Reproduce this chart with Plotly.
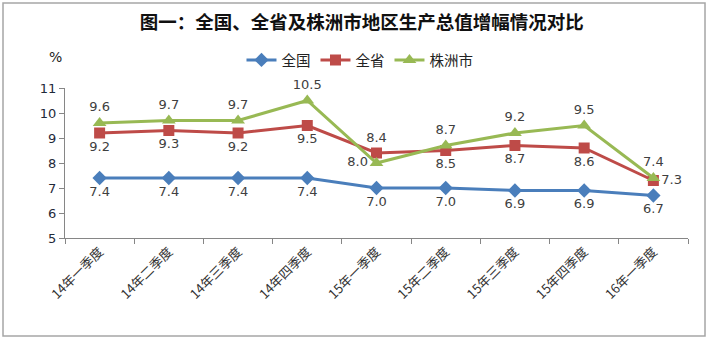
import plotly.graph_objects as go

quarters = ["14年一季度", "14年二季度", "14年三季度", "14年四季度", "15年一季度",
            "15年二季度", "15年三季度", "15年四季度", "16年一季度"]
national = [7.4, 7.4, 7.4, 7.4, 7.0, 7.0, 6.9, 6.9, 6.7]
province = [9.2, 9.3, 9.2, 9.5, 8.4, 8.5, 8.7, 8.6, 7.3]
zhuzhou = [9.6, 9.7, 9.7, 10.5, 8.0, 8.7, 9.2, 9.5, 7.4]

prov_pos = ["bottom center"] * 4 + ["top center"] + ["bottom center"] * 3 + ["middle right"]
zz_pos = ["top center"] * 4 + ["middle left"] + ["top center"] * 4

label_font = dict(family="DejaVu Sans", size=13, color="#404040")

fig = go.Figure()
fig.add_trace(go.Scatter(
    x=quarters, y=national, name="全国", mode="lines+markers+text",
    line=dict(color="#4A7EBB", width=3),
    marker=dict(symbol="diamond", size=11, color="#4A7EBB"),
    text=[f"{v:.1f}" for v in national], textposition="bottom center",
    textfont=label_font, cliponaxis=False,
))
fig.add_trace(go.Scatter(
    x=quarters, y=province, name="全省", mode="lines+markers+text",
    line=dict(color="#BE4B48", width=3),
    marker=dict(symbol="square", size=11, color="#BE4B48"),
    text=[f"{v:.1f}" for v in province], textposition=prov_pos,
    textfont=label_font, cliponaxis=False,
))
fig.add_trace(go.Scatter(
    x=quarters, y=zhuzhou, name="株洲市", mode="lines+markers+text",
    line=dict(color="#98B954", width=3),
    marker=dict(symbol="triangle-up", size=12, color="#98B954"),
    text=[f"{v:.1f}" for v in zhuzhou], textposition=zz_pos,
    textfont=label_font, cliponaxis=False,
))

fig.update_layout(
    width=712, height=339,
    margin=dict(l=65, r=24, t=88, b=101),
    paper_bgcolor="white", plot_bgcolor="white",
    font=dict(family="Noto Sans CJK SC", color="#222222"),
    showlegend=True,
    legend=dict(orientation="h", x=0.4735, xanchor="center", y=1.187, yanchor="middle",
                font=dict(size=14.5, color="#222222"), itemwidth=30,
                bgcolor="rgba(0,0,0,0)"),
    title=dict(text="<b>图一：全国、全省及株洲市地区生产总值增幅情况对比</b>",
               x=0.508, xanchor="center", y=0.935, yanchor="middle",
               font=dict(family="Noto Sans CJK SC", size=18.5, color="#111111")),
    xaxis=dict(
        showgrid=False, showline=True, linecolor="#868686", linewidth=1,
        ticks="outside", ticklen=5, tickcolor="#868686", tickson="boundaries",
        tickangle=-45, tickfont=dict(family="Noto Sans CJK SC", size=13, color="#333333"),
        range=[-0.5, 8.5], mirror=False,
    ),
    yaxis=dict(
        range=[5, 11], dtick=1, showgrid=False, zeroline=False,
        showline=True, linecolor="#868686", linewidth=1,
        ticks="outside", ticklen=5, tickcolor="#868686",
        tickfont=dict(family="DejaVu Sans", size=13, color="#1F2A3A"),
    ),
    shapes=[dict(type="rect", xref="paper", yref="paper",
                 x0=-0.0995, x1=1.0273, y0=-0.653, y1=1.567,
                 line=dict(color="#A6A6A6", width=1.5))],
    annotations=[dict(text="%", xref="paper", yref="paper", x=-0.029, y=1.273,
                      showarrow=False, font=dict(family="DejaVu Sans", size=14, color="#222222"))],
)

fig.write_html("out.html")
